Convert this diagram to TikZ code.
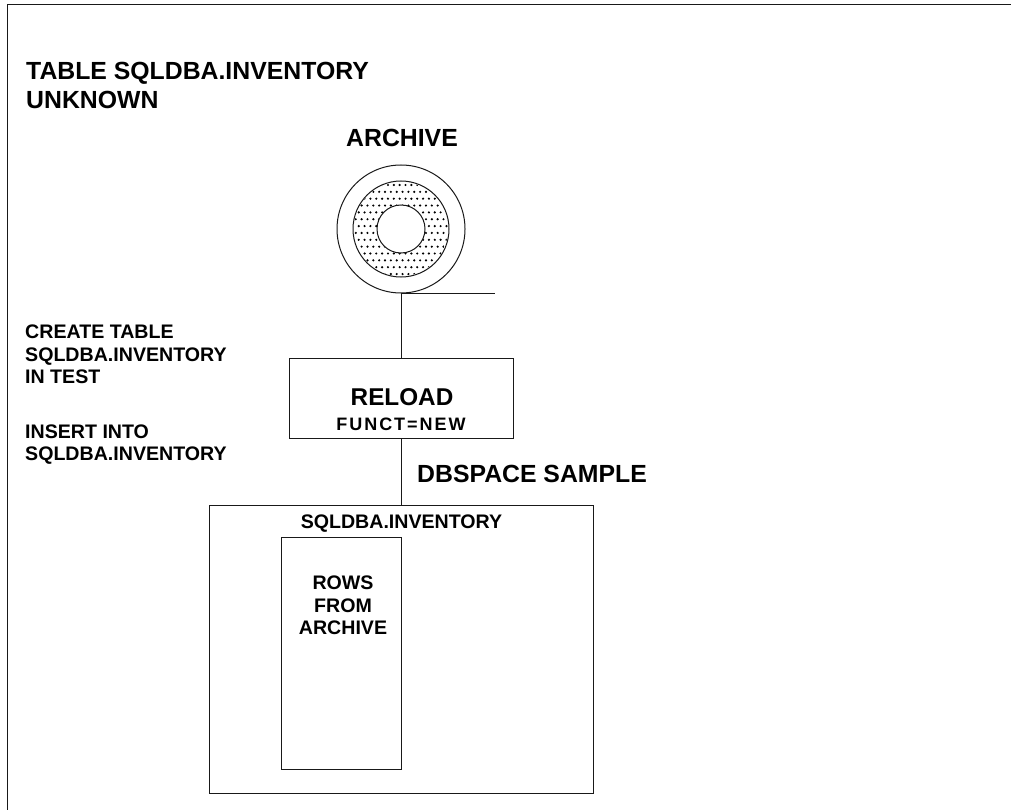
\documentclass[tikz,border=0pt]{standalone}
\usepackage{fontspec}
\setmainfont{Liberation Sans}[BoldFont={Liberation Sans Bold}]
\tikzset{
  ln/.style={draw=black!90,line width=1pt},
  boxn/.style={ln,rectangle,inner sep=0pt,outer sep=0pt},
  ringn/.style={ln,circle,inner sep=0pt,outer sep=0pt},
  big/.style={font=\fontsize{24.8}{28}\selectfont\bfseries,inner sep=0pt},
  lab/.style={font=\fontsize{19.6}{22}\selectfont\bfseries,inner sep=0pt},
  spaced/.style={font=\fontsize{18}{22}\selectfont\bfseries\addfontfeature{LetterSpace=11},inner sep=0pt},
}
\begin{document}
\begin{tikzpicture}[x=1pt,y=-1pt]
\useasboundingbox (0,0) rectangle (1011,810);
\fill[white] (0,0) rectangle (1011,810);
% page frame
\coordinate (ftr) at (1011,5);
\coordinate (ftl) at (7,5);
\coordinate (fbl) at (7,810);
\draw[ln] (ftr) -- (ftl) -- (fbl);
% titles
\node[big,anchor=base west] (t1) at (26,79.5) {TABLE SQLDBA.INVENTORY};
\node[big,anchor=base west] (t2) at (26,109) {UNKNOWN};
\node[big,anchor=base] (arch) at (402,147) {ARCHIVE};
% tape reel
\node[ringn,minimum size=128pt] (outer) at (401,229) {};
\node[ringn,minimum size=96pt] (middle) at (401,229) {};
\begin{scope}
\clip (401,229) circle (47);
\foreach \r in {0,...,14}{
  \foreach \c in {0,...,18}{
    \pgfmathsetmacro{\dx}{347+\c*5.85+mod(\r,2)*2.9}
    \pgfmathsetmacro{\dy}{185+\r*6.85}
    \fill[black] (\dx,\dy) circle (1.2);
  }
}
\end{scope}
\node[ringn,fill=white,minimum size=48pt] (inner) at (401,229) {};
\coordinate (tail) at (495,293);
\draw[ln] (outer.south) -- (tail);
% reload box
\node[boxn,minimum width=224pt,minimum height=80pt] (reload) at (401,398) {};
\node[font=\fontsize{24.3}{26}\selectfont\bfseries,inner sep=0pt,anchor=base] (rl) at (402,405.5) {RELOAD};
\node[spaced,anchor=base] (fn) at (401,430.5) {FUNCT=NEW};
\draw[ln] (outer.south) -- (reload.north);
% side labels
\node[lab,anchor=base west] (a1) at (25,338.5) {CREATE TABLE};
\node[lab,anchor=base west] (a2) at (25,361) {SQLDBA.INVENTORY};
\node[lab,anchor=base west] (a3) at (25,383) {IN TEST};
\node[lab,anchor=base west] (a4) at (25,438) {INSERT INTO};
\node[lab,anchor=base west] (a5) at (25,460) {SQLDBA.INVENTORY};
\node[big,anchor=base west] (ds) at (417,482.5) {DBSPACE SAMPLE};
% dbspace
\node[boxn,minimum width=384pt,minimum height=288pt] (db) at (401,649) {};
\draw[ln] (reload.south) -- (db.north);
\node[lab,anchor=base] (tn) at (401.5,528) {SQLDBA.INVENTORY};
\node[boxn,minimum width=120pt,minimum height=232pt] (rows) at (341,653) {};
\node[lab,anchor=base] (r1) at (343,589) {ROWS};
\node[lab,anchor=base] (r2) at (343,612) {FROM};
\node[lab,anchor=base] (r3) at (343,634) {ARCHIVE};
\end{tikzpicture}
\end{document}
